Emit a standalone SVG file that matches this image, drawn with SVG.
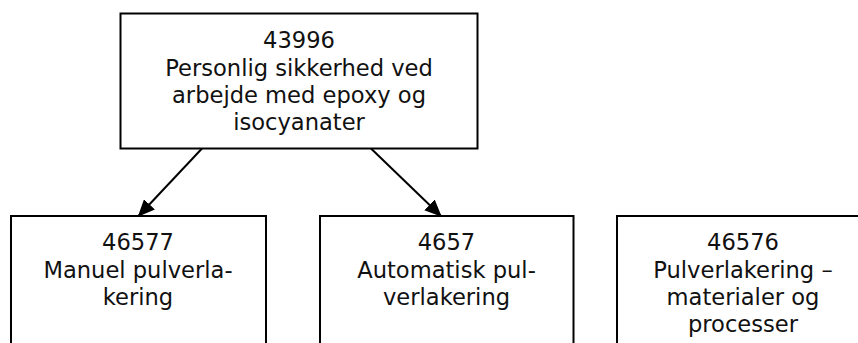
<svg xmlns="http://www.w3.org/2000/svg" width="858" height="343" viewBox="0 0 858 343">
<style>
.box{fill:#fff;stroke:#000;stroke-width:2}
.t{font-family:"DejaVu Sans",Verdana,sans-serif;font-size:22.6px;fill:#111;text-anchor:middle}
.c{stroke:#000;stroke-width:2;fill:none}
</style>
<defs>
<marker id="ah" markerWidth="17" markerHeight="15" refX="16" refY="7.5" orient="auto" markerUnits="userSpaceOnUse" viewBox="0 0 17 15">
<path d="M0,0 L17,7.5 L0,15 z" fill="#000"/>
</marker>
</defs>
<rect width="858" height="343" fill="#fff"/>
<g id="n43996">
<rect class="box" x="120.5" y="13.5" width="357" height="135"/>
<text class="t" x="299" y="48">43996</text>
<text class="t" x="299" y="75.5">Personlig sikkerhed ved</text>
<text class="t" x="299" y="102.5">arbejde med epoxy og</text>
<text class="t" x="299" y="129.5">isocyanater</text>
</g>
<g id="n46577">
<rect class="box" x="11" y="216" width="255" height="140"/>
<text class="t" x="138" y="250">46577</text>
<text class="t" x="138" y="277.5">Manuel pulverla-</text>
<text class="t" x="138" y="305">kering</text>
</g>
<g id="n4657">
<rect class="box" x="320" y="216" width="253.5" height="140"/>
<text class="t" x="446.5" y="250">4657</text>
<text class="t" x="446.5" y="277.5">Automatisk pul-</text>
<text class="t" x="446.5" y="305">verlakering</text>
</g>
<g id="n46576">
<rect class="box" x="617" y="216" width="253" height="140"/>
<text class="t" x="743" y="250">46576</text>
<text class="t" x="743" y="277.5">Pulverlakering –</text>
<text class="t" x="743" y="305">materialer og</text>
<text class="t" x="743" y="332">processer</text>
</g>
<g id="connectors">
<line class="c" x1="202" y1="148.5" x2="138.5" y2="216" marker-end="url(#ah)"/>
<line class="c" x1="371" y1="148.5" x2="441" y2="216" marker-end="url(#ah)"/>
</g>
</svg>
